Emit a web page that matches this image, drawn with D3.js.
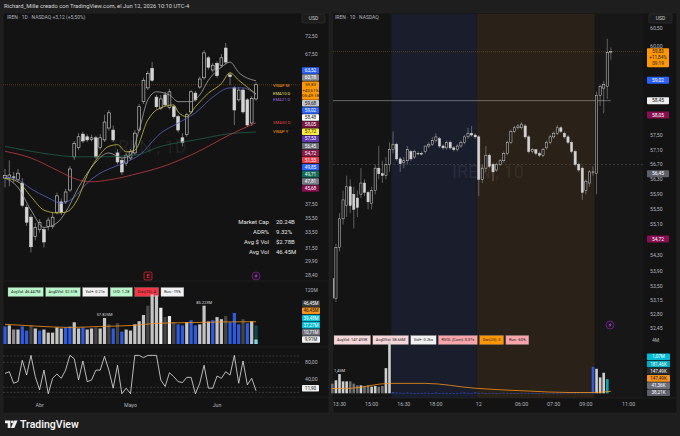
<!DOCTYPE html>
<html><head><meta charset="utf-8">
<script src="https://cdn.jsdelivr.net/npm/d3@7"></script>
<style>
html,body{margin:0;padding:0;background:#1e1e1e;}
svg{display:block;font-family:Roboto,"Liberation Sans",sans-serif;}
</style></head><body>
<svg id="c" width="680" height="436"></svg>
<script>
// ---------------- DATA ----------------
// Left: daily candles [open, high, low, close]
const leftCandles = [
[41.5,43.0,40.0,41.9],[41.6,44.5,40.2,42.0],[41.7,42.5,40.8,41.6],[41.3,43.0,41.0,42.3],[40.7,41.5,37.0,37.3],
[37.0,37.4,34.4,34.9],[35.6,36.0,31.0,31.7],[33.0,34.8,32.5,34.2],[33.9,35.3,33.5,34.9],[33.9,34.2,31.6,32.3],
[34.3,35.6,33.8,35.2],[34.3,36.3,34.0,35.6],[36.3,39.2,36.0,38.7],[37.8,38.3,35.9,36.3],[37.8,39.8,37.5,39.3],
[39.6,43.5,39.3,43.0],[45.1,48.0,44.6,47.5],[46.8,49.5,46.3,48.8],[49.3,49.8,47.6,48.0],[48.8,49.3,47.8,48.2],
[48.3,49.2,47.9,48.6],[48.6,49.0,44.8,45.1],[46.8,49.3,46.4,48.6],[48.2,53.2,47.8,51.7],[50.5,54.2,50.0,53.6],
[50.1,51.0,47.8,48.2],[45.8,46.5,43.8,44.2],[44.5,45.0,42.0,42.5],[44.0,45.8,43.5,45.4],[44.9,46.5,44.5,46.0],
[45.8,50.1,45.4,49.5],[50.1,55.5,49.8,54.9],[56.0,61.5,55.5,60.9],[59.1,63.2,58.6,62.5],[63.8,65.4,60.5,60.9],
[57.0,57.5,54.5,54.9],[54.6,57.5,54.2,56.6],[57.5,58.2,55.0,55.3],[54.7,58.9,54.3,58.2],[54.9,55.3,52.4,52.8],
[52.8,53.2,49.6,50.1],[48.6,49.5,47.0,47.7],[49.2,53.6,48.8,53.2],[53.8,58.6,53.4,58.2],[57.9,58.4,56.0,56.4],
[59.3,61.8,58.9,61.2],[61.5,68.5,61.0,67.8],[66.5,67.0,63.5,64.1],[63.4,65.2,62.8,64.6],[65.1,65.6,61.5,62.0],
[64.6,67.5,64.0,66.5],[69.1,70.5,64.8,65.4],[62.2,62.8,59.8,61.8],[59.1,59.5,51.1,54.2],[56.4,59.3,56.0,58.6],
[58.6,59.0,53.4,53.8],[56.4,56.8,50.7,51.1],[51.5,57.2,50.9,56.71],[56.6,60.4,56.2,59.83]
];
// Left moving lines: [candle index, value]
const lineGray   = [[0,41.5],[3,40.0],[6,36.6],[9,34.2],[12,34.8],[14,36.3],[17,40.0],[20,43.3],[24,45.8],[27,44.9],[29,45.4],[31,50.1],[33,56.4],[35,58.2],[38,57.5],[40,56.0],[43,56.0],[45,57.5],[47,60.9],[50,64.1],[52,65.4],[54,62.8],[58,60.78]];
const lineEma10  = [[0,41.5],[3,40.9],[6,38.6],[9,36.6],[12,36.2],[14,36.3],[17,38.5],[19,42.0],[21,44.5],[24,47.0],[26,47.3],[28,46.0],[30,46.3],[33,52.1],[35,54.2],[39,55.3],[40,53.8],[42,52.8],[44,54.9],[47,57.9],[50,60.1],[52,62.7],[54,60.9],[58,57.72]];
const lineEma21  = [[0,41.7],[3,41.2],[6,39.8],[10,38.4],[13,37.6],[16,38.5],[19,40.7],[22,42.3],[25,43.3],[28,44.2],[31,45.4],[36,49.5],[40,51.5],[44,53.6],[48,57.0],[52,59.1],[55,59.1],[58,57.53]];
const lineSma50  = [[0,46.1],[6,44.9],[12,42.8],[17,41.2],[20,40.9],[24,41.2],[31,42.3],[36,43.3],[44,45.8],[52,49.2],[58,51.55]];
const lineVwapY  = [[0,47.0],[6,46.1],[12,45.4],[17,45.1],[22,45.1],[30,45.4],[36,47.0],[44,48.2],[52,49.4],[58,49.71]];
const leftTicks = [72.5,67.5,37.5,35.5,33.5,31.5,29.9,28.4];
const leftAbove = [63.52,60.78];
const leftBelow = [59.68,59.02,58.48,58.05,57.72,57.53,56.45,54.72,51.55,49.85,49.71,47.81,45.68];
const leftLast = 59.83;
const leftTimeIdx = [8,29,49];
const leftTimeText = ['Abr','Mayo','Jun'];
// Left volume (millions) and bar class
const leftVol = [39.1,41.4,32.2,32.2,39.1,29.9,41.4,34.5,29.9,32.2,25.3,25.3,36.8,34.5,36.8,39.1,48.3,34.5,36.8,32.2,34.5,36.8,34.5,57.8,43.7,34.5,46,27.6,32.2,29.9,43.7,50.6,64.4,85.1,110,108,80.5,60,62.1,48.3,43.7,41.4,48.3,52.9,41.4,43.7,85.2,50,52.9,59.8,55.2,62.1,48.3,69,43.7,55.2,46,50.6,9.91];
const leftVolKind = ['b','l','g','l','b','b','d','l','b','l','l','l','l','l','b','b','l','l','b','l','l','d','l','l','d','b','d','b','l','l','l','l','l','d','l','l','w','d','w','d','b','b','l','b','b','l','l','l','b','l','l','d','b','b','b','d','b','l','t'];
const leftVolProjected = 41;
const leftVolAvg = [[0,43.7],[7,39.8],[15,36.8],[22,39],[30,41.4],[35,46],[43,47.6],[50,49],[58,49.5]];
const leftVolNotes = [[23,'57.825M'],[46,'85.223M']];
const leftVolLabels = [46.45,46.45,39.48,37.27,10.71,9.91];
const leftVolLabelText = ['46,45M','46,45M','39,48M','37,27M','10,71M','9,91M'];
// Left oscillator
const leftOsc = [53.3,57.3,29.8,33.7,84.7,49.4,96.5,45.5,14.1,61.2,4.7,41.6,51.8,41.6,61.2,96.5,88.6,37.6,83.1,33.7,37.6,61.2,61.2,94.1,61.2,18.0,72.9,4.7,18.0,4.7,96.5,96.5,91.0,96.5,96.5,96.5,37.6,22.0,54.9,45.5,33.7,31.4,43.9,43.9,4.7,29.8,72.9,18.0,18.0,47.1,41.6,57.3,49.4,96.5,29.8,83.1,25.9,41.6,11.9];
const oscLevels = [95,80,20,8];
const oscTicks = [80,40];
const leftLegend = ['AvgVol: 46.447M','AvgDVol: $2.51B','Vol+: 0.21×','U/D: 1.28','Dist(25): 4','Run: -19%'];
const statsLabels = ['Market Cap','ADR%','Avg $ Vol','Avg Vol'];
const statsValues = ['20.24B','9.32%','$2.78B','46.45M'];

// Right: 10-minute candles starting at index -2 (13:10)
const rightStart = -2;
const rightCandles = [
[53.7,53.85,53.1,53.2],[53.2,54.6,53.1,54.5],[54.5,55.4,54.4,55.25],[55.25,56.0,55.1,55.75],[55.6,56.4,55.3,56.1],
[56.1,56.3,55.4,55.6],[55.9,56.1,55.0,55.5],[55.8,56.0,55.3,55.55],[55.9,56.6,55.8,56.2],[56.2,56.3,55.85,55.95],
[55.95,56.0,55.5,55.7],[55.65,56.1,55.5,56.0],[56.0,56.7,55.9,56.6],[56.6,57.2,56.3,56.45],[56.45,56.8,56.2,56.4],
[56.4,56.9,56.3,56.7],[56.7,57.3,56.5,57.1],[57.1,57.6,57.0,57.25],[57.25,57.3,56.8,56.85],[56.85,56.9,56.5,56.72],
[56.75,56.9,56.6,56.8],[56.8,57.2,56.7,57.1],[57.05,57.1,56.8,56.85],[56.9,57.1,56.85,57.05],[57.0,57.05,56.95,57.0],
[57.0,57.05,56.95,56.98],[57.05,57.2,57.0,57.2],[57.2,57.3,57.15,57.25],[57.25,57.45,57.2,57.35],[57.35,57.55,57.3,57.45],
[57.4,57.45,57.15,57.2],[57.2,57.25,57.1,57.15],[57.15,57.35,57.1,57.3],[57.3,57.35,57.1,57.15],[57.15,57.2,57.05,57.1],
[57.1,57.25,57.05,57.2],[57.2,57.35,57.15,57.3],[57.3,57.5,57.25,57.45],[57.45,57.7,57.4,57.55],[57.55,57.75,57.45,57.5],
[57.5,57.55,57.4,57.45],
[57.45,57.5,55.85,56.3],[56.3,56.7,56.2,56.6],[56.6,57.2,56.5,56.95],[56.95,57.0,56.6,56.65],[56.7,56.75,56.25,56.5],
[56.55,56.75,56.5,56.7],[56.7,56.85,56.65,56.8],[56.8,57.05,56.75,57.0],[57.0,57.35,56.95,57.3],[57.3,57.65,57.25,57.6],
[57.6,57.75,57.55,57.7],[57.7,57.8,57.65,57.75],[57.7,57.85,57.65,57.8],[57.75,57.8,57.4,57.45],[57.45,57.5,57.0,57.05],
[57.05,57.15,57.0,57.1],[57.1,57.12,56.95,57.0],[57.0,57.05,56.9,56.95],[56.95,57.15,56.9,57.1],[57.15,57.35,57.1,57.3],
[57.3,57.5,57.25,57.45],[57.45,57.6,57.4,57.55],[57.55,57.78,57.5,57.7],[57.7,57.75,57.55,57.6],[57.55,57.6,57.4,57.45],
[57.45,57.5,57.25,57.3],[57.3,57.35,57.0,57.05],[57.05,57.1,56.65,56.7],[56.7,56.75,56.5,56.55],[56.6,56.65,55.75,55.95],
[56.0,56.3,55.9,56.25],[56.2,56.55,56.1,56.5],[56.5,56.65,56.4,56.5],
[56.45,58.7,55.9,58.6],[58.6,58.9,58.3,58.85],[58.8,59.0,58.1,58.9],[58.85,60.2,58.5,59.8],[59.8,59.95,59.6,59.83]
];
// Right volume (millions), same indices
const rightVol = [0.73,0.98,1.45,0.9,0.9,0.9,0.73,0.6,0.6,0.55,0.6,0.5,0.55,0.5,0.55,1.9,3.9,
0.08,0.05,0.04,0.03,0.05,0.03,0.02,0.03,0.02,0.04,0.03,0.02,0.05,0.03,0.02,0.03,0.02,0.02,0.03,0.04,0.05,0.03,0.02,
0.06,0.03,0.04,0.02,0.03,0.02,0.02,0.03,0.04,0.03,0.02,0.02,0.02,0.04,0.03,0.02,0.02,0.02,0.02,0.03,0.02,0.03,0.02,0.02,0.03,0.04,0.05,0.03,0.08,0.05,0.04,0.06,0.05,
2.0,1.85,1.2,1.55,1.07];
const rightVolAvg = [[-2,0.36],[3,0.38],[14,0.75],[24,0.75],[38,0.38],[53,0.17],[64,0.06],[71,0.06],[76,0.147]];
const rightVolNote = [0,'1,45M'];
const sessionBreaks = [14.5,38.5,71.5]; // post-market start, pre-market start, regular open
const rightTicks = [60.5,60.0,57.5,57.1,56.7,56.3,55.9,55.5,55.1,54.3,53.9,53.5,53.15,52.8,52.45];
const rightBoxVals = [59.02,58.45,58.05,56.45,54.72];
const rightLast = 59.83;
const prevClose = 56.70;
const vwapLevel = 58.45;
const rightTimeIdx = [0,9,18,27,39,51,60,69,81];
const rightTimeText = ['13:30','15:00','16:30','18:00','12','06:00','07:30','09:00','11:00'];
const rightVolLabels = [1.07,0.18146,0.14749,0.14749,0.04136,0.03821];
const rightVolLabelText = ['1,07M','181,46K','147,49K','147,49K','41,36K','38,21K'];
const rightLegend = ['AvgVol: 147.493K','AvgDVol: $8.66M','Vol+: 0.26×','RVOL (Cum): 0.37×','Dist(25): 3','Run: -60%'];

// ---------------- STYLE ----------------
const svg = d3.select('#c');
const fmt = v => v.toFixed(2).replace('.', ',');
const AX = '#b2b5be';
const BG = '#131313';
const upFill = BG, candleCol = '#d4d4d4', wickCol = '#a8a8a8';
const leftAboveCol = ['#2962ff','#8a8d96'];
const leftBelowCol = ['#c3c5cc','#2962ff','#ffffff','#7b1343','#ffeb3b','#5e35b1','#6a6d78','#8b1a4a','#e53945','#2962ff','#0f6b57','#787b86','#880e4f'];
const volKindCol = {b:'#2f5be0', l:'#c4c4c4', g:'#8c8c8c', d:'#454545', w:'#eeeeee', t:'#7fdbe6'};
const leftVolLabelCol = ['#3a3a3a','#f7931a','#00bcd4','#00bcd4','#6a6d78','#f0f0f0'];
const rightVolLabelCol = ['#00bcd4','#00acc1','#2a2a2a','#f7931a','#6a6d78','#5d606b'];
const rightBoxCol = ['#2962ff','#f0f0f0','#880e4f','#5d606b','#880e4f'];
const leftLegendBg = ['#b9f6ca','#b9f6ca','#f2f2f2','#b9f6ca','#f23645','#f2f2f2'];
const rightLegendBg = ['#f8d7da','#f8d7da','#f2f2f2','#f8a5ac','#ff9800','#f8a5ac'];
const isLight = c => { const r=d3.rgb(c); return (r.r*0.299+r.g*0.587+r.b*0.114) > 150; };

// background
svg.append('rect').attr('width',680).attr('height',436).attr('fill','#1e1e1e');
svg.append('rect').attr('x',3).attr('y',13).attr('width',326).attr('height',400).attr('fill',BG).attr('stroke','#262626').attr('stroke-width',0.6);
svg.append('rect').attr('x',333).attr('y',13).attr('width',344).attr('height',400).attr('fill',BG).attr('stroke','#262626').attr('stroke-width',0.6);
svg.append('text').attr('x',4).attr('y',8).attr('font-size',5.8).attr('fill','#d6d6d6')
  .text('Richard_Mille creado con TradingView.com, el Jun 12, 2026 10:10 UTC-4');

const defs = svg.append('defs');
defs.append('clipPath').attr('id','clipL').append('rect').attr('x',3).attr('y',14).attr('width',297).attr('height',267);
defs.append('clipPath').attr('id','clipR').append('rect').attr('x',333).attr('y',14).attr('width',310).attr('height',318);

function usdBox(x,y){
  svg.append('rect').attr('x',x).attr('y',y).attr('width',23).attr('height',9).attr('rx',1).attr('fill','#1c1c1c').attr('stroke','#3a3a3a').attr('stroke-width',0.5);
  svg.append('text').attr('x',x+11.5).attr('y',y+6.3).attr('text-anchor','middle').attr('font-size',5).attr('fill','#d0d0d0').text('USD');
}
function box(g,x,yc,w,h,bg,txt,fs){
  g.append('rect').attr('x',x).attr('y',yc-h/2).attr('width',w).attr('height',h).attr('rx',0.8).attr('fill',bg);
  g.append('text').attr('x',x+w/2).attr('y',yc+fs*0.36).attr('text-anchor','middle').attr('font-size',fs)
    .attr('fill',isLight(bg)?'#131313':'#ffffff').text(txt);
}
function legend(items, bgs, x0, yc){
  let x=x0;
  items.forEach((t,k)=>{
    const g=svg.append('g');
    const r=g.append('rect').attr('y',yc-4.5).attr('height',9).attr('x',x).attr('fill',bgs[k]).attr('stroke','#888').attr('stroke-width',0.3);
    const tx=g.append('text').attr('x',x+3).attr('y',yc+1.4).attr('font-size',3.9).attr('fill','#202020').text(t);
    const w=tx.node().getComputedTextLength()+6;
    r.attr('width',w);
    x+=w+2.3;
  });
}
function icon(x,y,kind){
  if(kind==='E'){
    svg.append('rect').attr('x',x-4).attr('y',y-4).attr('width',8).attr('height',8).attr('rx',1.5).attr('fill','#2a1014').attr('stroke','#f23645').attr('stroke-width',0.6);
    svg.append('text').attr('x',x).attr('y',y+2).attr('text-anchor','middle').attr('font-size',5.5).attr('fill','#f23645').text('E');
  } else {
    svg.append('circle').attr('cx',x).attr('cy',y).attr('r',4).attr('fill','#1e1426').attr('stroke','#9c27b0').attr('stroke-width',0.6);
    svg.append('path').attr('d',`M${x+0.8},${y-2.6} L${x-1.4},${y+0.4} L${x+0.2},${y+0.4} L${x-0.8},${y+2.6} L${x+1.6},${y-0.6} L${x},${y-0.6} Z`).attr('fill','#b36ad0');
  }
}

// ================= LEFT PANEL =================
const xL = d3.scaleLinear().domain([0,58]).range([5,256]);
const yL = d3.scaleLog().domain([28.4,72.5]).range([274.8,35.8]);
const yV = d3.scaleLinear().domain([0,120]).range([344,290]);
const yO = d3.scaleLinear().domain([0,100]).range([395.7,353.9]);

svg.append('text').attr('x',7).attr('y',19).attr('font-size',5).attr('fill',AX).text('IREN · 1D · NASDAQ   +3,12 (+5,50%)');
usdBox(302,14);
// separators
[281,347,397].forEach(y=>svg.append('line').attr('x1',3).attr('x2',329).attr('y1',y).attr('y2',y).attr('stroke','#262626').attr('stroke-width',0.6));

const gL = svg.append('g').attr('clip-path','url(#clipL)');
gL.append('text').attr('x',113).attr('y',153).attr('font-size',18).attr('fill','rgba(255,255,255,0.07)').text('IREN , 1D');
// price line
gL.append('line').attr('x1',3).attr('x2',300).attr('y1',yL(leftLast)).attr('y2',yL(leftLast)).attr('stroke','#8a5a1e').attr('stroke-width',0.6).attr('stroke-dasharray','1,1');
// candles
leftCandles.forEach((c,i)=>{
  const [o,h,l,cl]=c, x=xL(i), up=cl>=o;
  gL.append('line').attr('x1',x).attr('x2',x).attr('y1',yL(h)).attr('y2',yL(l)).attr('stroke',wickCol).attr('stroke-width',0.6);
  const y1=yL(Math.max(o,cl)), y2=yL(Math.min(o,cl));
  gL.append('rect').attr('x',x-1.4).attr('width',2.8).attr('y',y1).attr('height',Math.max(0.6,y2-y1))
    .attr('fill',up?upFill:candleCol).attr('stroke',candleCol).attr('stroke-width',0.6);
});
const lineL = d3.line().x(d=>xL(d[0])).y(d=>yL(d[1])).curve(d3.curveMonotoneX);
[[lineVwapY,'#1f5e4b'],[lineSma50,'#c23a42'],[lineEma21,'#5a5fc4'],[lineGray,'#a6a6a6'],[lineEma10,'#c8c23c']].forEach(([d,c])=>{
  gL.append('path').attr('d',lineL(d)).attr('fill','none').attr('stroke',c).attr('stroke-width',0.8);
});
// line labels
const lineTags = [['VWAP M',59.68,'#ff9800',0],['EMA10 D',57.72,'#e8e060',0],['EMA21 D',57.53,'#9c6ade',4.8],['SMA50 D',51.55,'#e04550',0],['VWAP Y',49.71,'#ff9800',0]];
lineTags.forEach(([t,v,c,dy])=>svg.append('text').attr('x',273).attr('y',yL(v)+dy+1.3).attr('font-size',4.2).attr('fill',c).text(t));
// stats
statsLabels.forEach((t,k)=>{
  svg.append('text').attr('x',269).attr('y',224+k*10).attr('text-anchor','end').attr('font-size',6).attr('fill','#e6e6e6').text(t);
  svg.append('text').attr('x',276).attr('y',224+k*10).attr('font-size',6).attr('fill','#e6e6e6').text(statsValues[k]);
});
icon(148,276,'E'); icon(256,276,'F');
// price axis
leftTicks.forEach(v=>svg.append('text').attr('x',305).attr('y',yL(v)+1.8).attr('font-size',5.2).attr('fill',AX).text(fmt(v)));
// stacked boxes
const gLB = svg.append('g');
const yLast = yL(leftLast);
const oTop = yLast-3.3, oBot = oTop+18.3;
leftAbove.forEach((v,k)=>box(gLB,302,oTop-3.9-(leftAbove.length-1-k)*7.1,17,6.5,leftAboveCol[k],fmt(v),4.7));
gLB.append('rect').attr('x',302).attr('y',oTop).attr('width',17).attr('height',oBot-oTop).attr('rx',0.8).attr('fill','#ff9800');
['59,83','+43,61%','05:49:18'].forEach((t,k)=>gLB.append('text').attr('x',310.5).attr('y',oTop+4.6+k*5.6).attr('text-anchor','middle').attr('font-size',4.4).attr('fill','#1a1a1a').text(t));
leftBelow.forEach((v,k)=>box(gLB,302,oBot+3.5+k*7.1,17,6.5,leftBelowCol[k],fmt(v),4.7));

// volume pane
legend(leftLegend,leftLegendBg,8,292);
leftVol.forEach((v,i)=>{
  const x=xL(i);
  if(i===leftVol.length-1){
    svg.append('rect').attr('x',x-1.6).attr('width',3.2).attr('y',yV(leftVolProjected)).attr('height',yV(0)-yV(leftVolProjected)).attr('fill','#0d4a50');
  }
  svg.append('rect').attr('x',x-1.6).attr('width',3.2).attr('y',yV(v)).attr('height',yV(0)-yV(v)).attr('fill',volKindCol[leftVolKind[i]]);
});
svg.append('path').attr('d',d3.line().x(d=>xL(d[0])).y(d=>yV(d[1])).curve(d3.curveMonotoneX)(leftVolAvg))
  .attr('fill','none').attr('stroke','#f7931a').attr('stroke-width',0.8);
leftVolNotes.forEach(([i,t])=>svg.append('text').attr('x',xL(i)).attr('y',yV(leftVol[i])-2).attr('text-anchor','middle').attr('font-size',4).attr('fill','#dddddd').text(t));
svg.append('text').attr('x',305).attr('y',yV(120)+1.8).attr('font-size',5).attr('fill',AX).text('120M');
leftVolLabels.forEach((v,k)=>{
  const n=leftVolLabels.length-1-k;
  box(svg,302,yV(leftVolLabels[leftVolLabels.length-1])-n*7.2,18,6.6,leftVolLabelCol[k],leftVolLabelText[k],4.6);
});

// oscillator
oscLevels.forEach(v=>svg.append('line').attr('x1',3).attr('x2',300).attr('y1',yO(v)).attr('y2',yO(v)).attr('stroke','#5a5a5a').attr('stroke-width',0.5).attr('stroke-dasharray','2,1.5'));
svg.append('path').attr('d',d3.line().x((d,i)=>xL(i)).y(d=>yO(d))(leftOsc)).attr('fill','none').attr('stroke','#e2e2e2').attr('stroke-width',0.8);
oscTicks.forEach(v=>svg.append('text').attr('x',305).attr('y',yO(v)+1.8).attr('font-size',5.2).attr('fill',AX).text(fmt(v)));
box(svg,302,yO(leftOsc[leftOsc.length-1])-2.5,17,6.6,'#f0f0f0',fmt(leftOsc[leftOsc.length-1]),4.7);
// time axis
leftTimeIdx.forEach((i,k)=>svg.append('text').attr('x',xL(i)).attr('y',407).attr('text-anchor','middle').attr('font-size',5.3).attr('fill',AX).text(leftTimeText[k]));

// ================= RIGHT PANEL =================
const xR = d3.scaleLinear().domain([0,81]).range([339.5,628.7]);
const yR = d3.scaleLog().domain([52.45,60.5]).range([328,28.3]);
const yRV = d3.scaleLinear().domain([0,4]).range([393.3,340.3]);

// sessions
const sx = [333, xR(sessionBreaks[0]), xR(sessionBreaks[1]), xR(sessionBreaks[2]), 643];
const sessCol = ['#141414','#1a1d2c','#2a2118','#171717'];
sessCol.forEach((c,k)=>svg.append('rect').attr('x',sx[k]).attr('y',14).attr('width',sx[k+1]-sx[k]).attr('height',384).attr('fill',c));
svg.append('line').attr('x1',333).attr('x2',677).attr('y1',398).attr('y2',398).attr('stroke','#262626').attr('stroke-width',0.6);
svg.append('text').attr('x',335).attr('y',19).attr('font-size',5).attr('fill',AX).text('IREN · 10 · NASDAQ');
usdBox(649,14);

const gR = svg.append('g').attr('clip-path','url(#clipR)');
gR.append('text').attr('x',452).attr('y',178).attr('font-size',18).attr('fill','rgba(255,255,255,0.08)').text('IREN , 10');
gR.append('line').attr('x1',333).attr('x2',643).attr('y1',yR(rightLast)).attr('y2',yR(rightLast)).attr('stroke','#7a5420').attr('stroke-width',0.6).attr('stroke-dasharray','1,1');
gR.append('line').attr('x1',333).attr('x2',643).attr('y1',yR(prevClose)).attr('y2',yR(prevClose)).attr('stroke','#5a5a5a').attr('stroke-width',0.5).attr('stroke-dasharray','2,2');
gR.append('line').attr('x1',333).attr('x2',xR(rightStart+rightCandles.length-1)).attr('y1',yR(vwapLevel)).attr('y2',yR(vwapLevel)).attr('stroke','#8c8c8c').attr('stroke-width',0.7);
rightCandles.forEach((c,k)=>{
  const i=rightStart+k, [o,h,l,cl]=c, x=xR(i), up=cl>=o;
  gR.append('line').attr('x1',x).attr('x2',x).attr('y1',yR(h)).attr('y2',yR(l)).attr('stroke',wickCol).attr('stroke-width',0.5);
  const y1=yR(Math.max(o,cl)), y2=yR(Math.min(o,cl));
  gR.append('rect').attr('x',x-1.1).attr('width',2.2).attr('y',y1).attr('height',Math.max(0.6,y2-y1))
    .attr('fill',up?'#1a1a1a':candleCol).attr('stroke',candleCol).attr('stroke-width',0.5);
});
icon(610,325,'F');
// right price axis
rightTicks.forEach(v=>svg.append('text').attr('x',650).attr('y',yR(v)+1.8).attr('font-size',5.2).attr('fill',AX).text(fmt(v)));
rightBoxVals.forEach((v,k)=>box(svg,647,yR(v),22,7,rightBoxCol[k],fmt(v),4.9));
const rT = yR(rightLast)-3.5;
svg.append('rect').attr('x',647).attr('y',rT).attr('width',22).attr('height',19).attr('rx',0.8).attr('fill','#ff9800');
['59,83','+11,84%','09:19'].forEach((t,k)=>svg.append('text').attr('x',658).attr('y',rT+5+k*5.8).attr('text-anchor','middle').attr('font-size',4.7).attr('fill','#1a1a1a').text(t));

// right volume
legend(rightLegend,rightLegendBg,334,340);
rightVol.forEach((v,k)=>{
  const i=rightStart+k, x=xR(i), c=rightCandles[k];
  let col;
  if(k===rightVol.length-1) col='#0fa3b1';
  else if(i>sessionBreaks[0] && i<sessionBreaks[2]) col='#3358d8';
  else col = c[3]>=c[0] ? '#cfcfcf' : '#707070';
  svg.append('rect').attr('x',x-1.3).attr('width',2.6).attr('y',yRV(v)).attr('height',Math.max(0.5,yRV(0)-yRV(v))).attr('fill',col);
});
svg.append('path').attr('d',d3.line().x(d=>xR(d[0])).y(d=>yRV(d[1])).curve(d3.curveMonotoneX)(rightVolAvg))
  .attr('fill','none').attr('stroke','#f7931a').attr('stroke-width',0.8);
svg.append('text').attr('x',xR(rightVolNote[0])).attr('y',yRV(rightVol[rightVolNote[0]-rightStart])-2).attr('text-anchor','middle').attr('font-size',4).attr('fill','#dddddd').text(rightVolNote[1]);
svg.append('text').attr('x',652).attr('y',yRV(4)+1.8).attr('font-size',5).attr('fill',AX).text('4M');
rightVolLabels.forEach((v,k)=>{
  const n=rightVolLabels.length-1-k;
  box(svg,647,yRV(rightVolLabels[rightVolLabels.length-1])-n*7.2,23,6.6,rightVolLabelCol[k],rightVolLabelText[k],4.6);
});
rightTimeIdx.forEach((i,k)=>svg.append('text').attr('x',xR(i)).attr('y',406).attr('text-anchor','middle').attr('font-size',5.3).attr('fill',AX).text(rightTimeText[k]));

// footer logo
svg.append('path').attr('d','M5,420.5 h5.4 v7.5 h-2.7 v-4.8 h-2.7 Z').attr('fill','#f0f0f0');
svg.append('circle').attr('cx',12.3).attr('cy',421.9).attr('r',1.4).attr('fill','#f0f0f0');
svg.append('path').attr('d','M14.2,420.5 h3.4 l-3.3,7.5 h-3.4 Z').attr('fill','#f0f0f0');
svg.append('text').attr('x',20).attr('y',428.3).attr('font-size',10.5).attr('font-weight',600).attr('fill','#f0f0f0').text('TradingView');
</script>
</body></html>
